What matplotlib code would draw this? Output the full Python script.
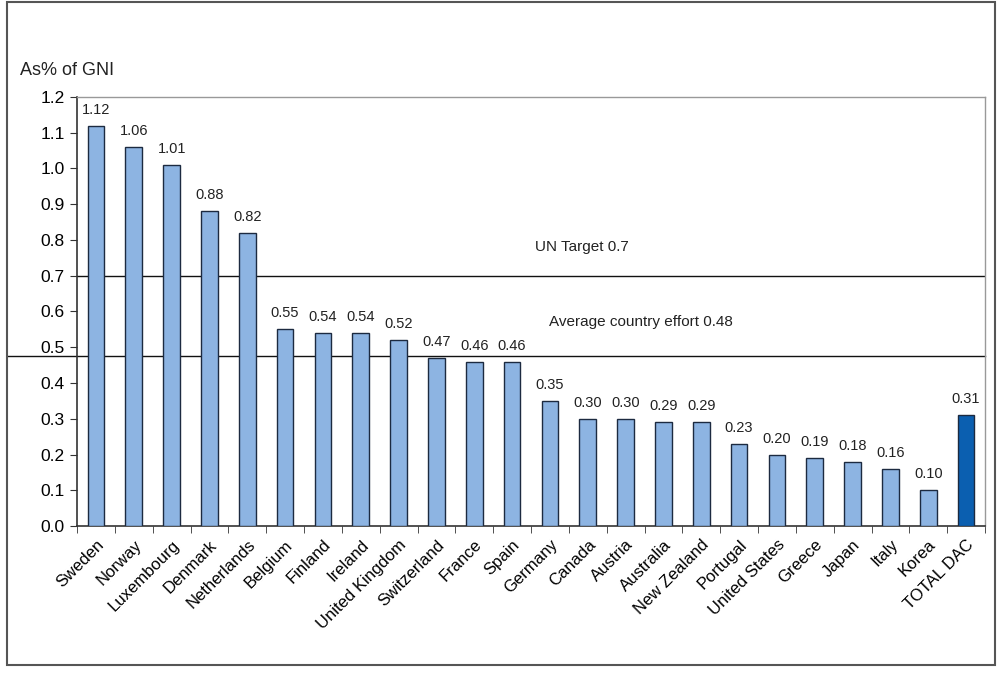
import matplotlib
matplotlib.use("Agg")
import matplotlib.pyplot as plt
from matplotlib.patches import Rectangle
import numpy as np

countries = ["Sweden", "Norway", "Luxembourg", "Denmark", "Netherlands", "Belgium",
             "Finland", "Ireland", "United Kingdom", "Switzerland", "France", "Spain",
             "Germany", "Canada", "Austria", "Australia", "New Zealand", "Portugal",
             "United States", "Greece", "Japan", "Italy", "Korea", "TOTAL DAC"]
oda_share = [1.12, 1.06, 1.01, 0.88, 0.82, 0.55, 0.54, 0.54, 0.52, 0.47, 0.46, 0.46,
             0.35, 0.30, 0.30, 0.29, 0.29, 0.23, 0.20, 0.19, 0.18, 0.16, 0.10, 0.31]
un_target = 0.7
average_effort = 0.475

plt.rcParams['font.family'] = ['Liberation Sans', 'DejaVu Sans']

fig = plt.figure(figsize=(9.98, 6.73), dpi=100)
ax = fig.add_axes([0.0772, 0.2184, 0.9098, 0.6375])

x = np.arange(len(countries))
colors = ['#8db4e2'] * (len(countries) - 1) + ['#0b5fb0']
ax.bar(x, oda_share, width=0.44, color=colors, edgecolor='#1c2a40', linewidth=1.0, zorder=3)

for xi, v in zip(x, oda_share):
    ax.text(xi, v + 0.025, "%.2f" % v, ha='center', va='bottom', fontsize=10.5, color='#222222')

ax.axhline(un_target, color='#111111', linewidth=1.0, zorder=2)
ax.text(12.85, un_target + 0.06, "UN Target 0.7", ha='center', va='bottom', fontsize=11,
        color='#222222')

# the average line runs out past the axis to the left border
ax.plot([-2.32, 23.5], [average_effort, average_effort], color='#111111', linewidth=1.0,
        zorder=2, clip_on=False)
ax.text(14.4, average_effort + 0.075, "Average country effort 0.48", ha='center', va='bottom',
        fontsize=11, color='#222222')

ax.set_xlim(-0.5, len(countries) - 0.5)
ax.set_ylim(0, 1.2)
ax.set_yticks(np.arange(0, 1.21, 0.1))
ax.set_yticklabels(["%.1f" % t for t in np.arange(0, 1.21, 0.1)], fontsize=12.5)
ax.set_xticks(x)
ax.set_xticklabels(countries, rotation=45, ha='right', va='top', rotation_mode='anchor', fontsize=12)
ax.tick_params(axis='x', which='major', length=0, pad=8)
ax.set_xticks(np.arange(-0.5, len(countries), 1.0), minor=True)
ax.tick_params(axis='x', which='minor', length=5, direction='out', color='#333333')
ax.tick_params(axis='y', length=5, direction='out', color='#333333', pad=4)

for side in ['left', 'bottom']:
    ax.spines[side].set_color('#333333')
    ax.spines[side].set_linewidth(1.2)
for side in ['top', 'right']:
    ax.spines[side].set_color('#999999')
    ax.spines[side].set_linewidth(1.0)

fig.text(0.02, 0.882, "As% of GNI", fontsize=13, color='#222222', ha='left', va='bottom')

fig.patches.append(Rectangle((0.007, 0.012), 0.99, 0.985, transform=fig.transFigure,
                             fill=False, edgecolor='#555555', linewidth=1.5))

fig.savefig("out.png", dpi=100)
